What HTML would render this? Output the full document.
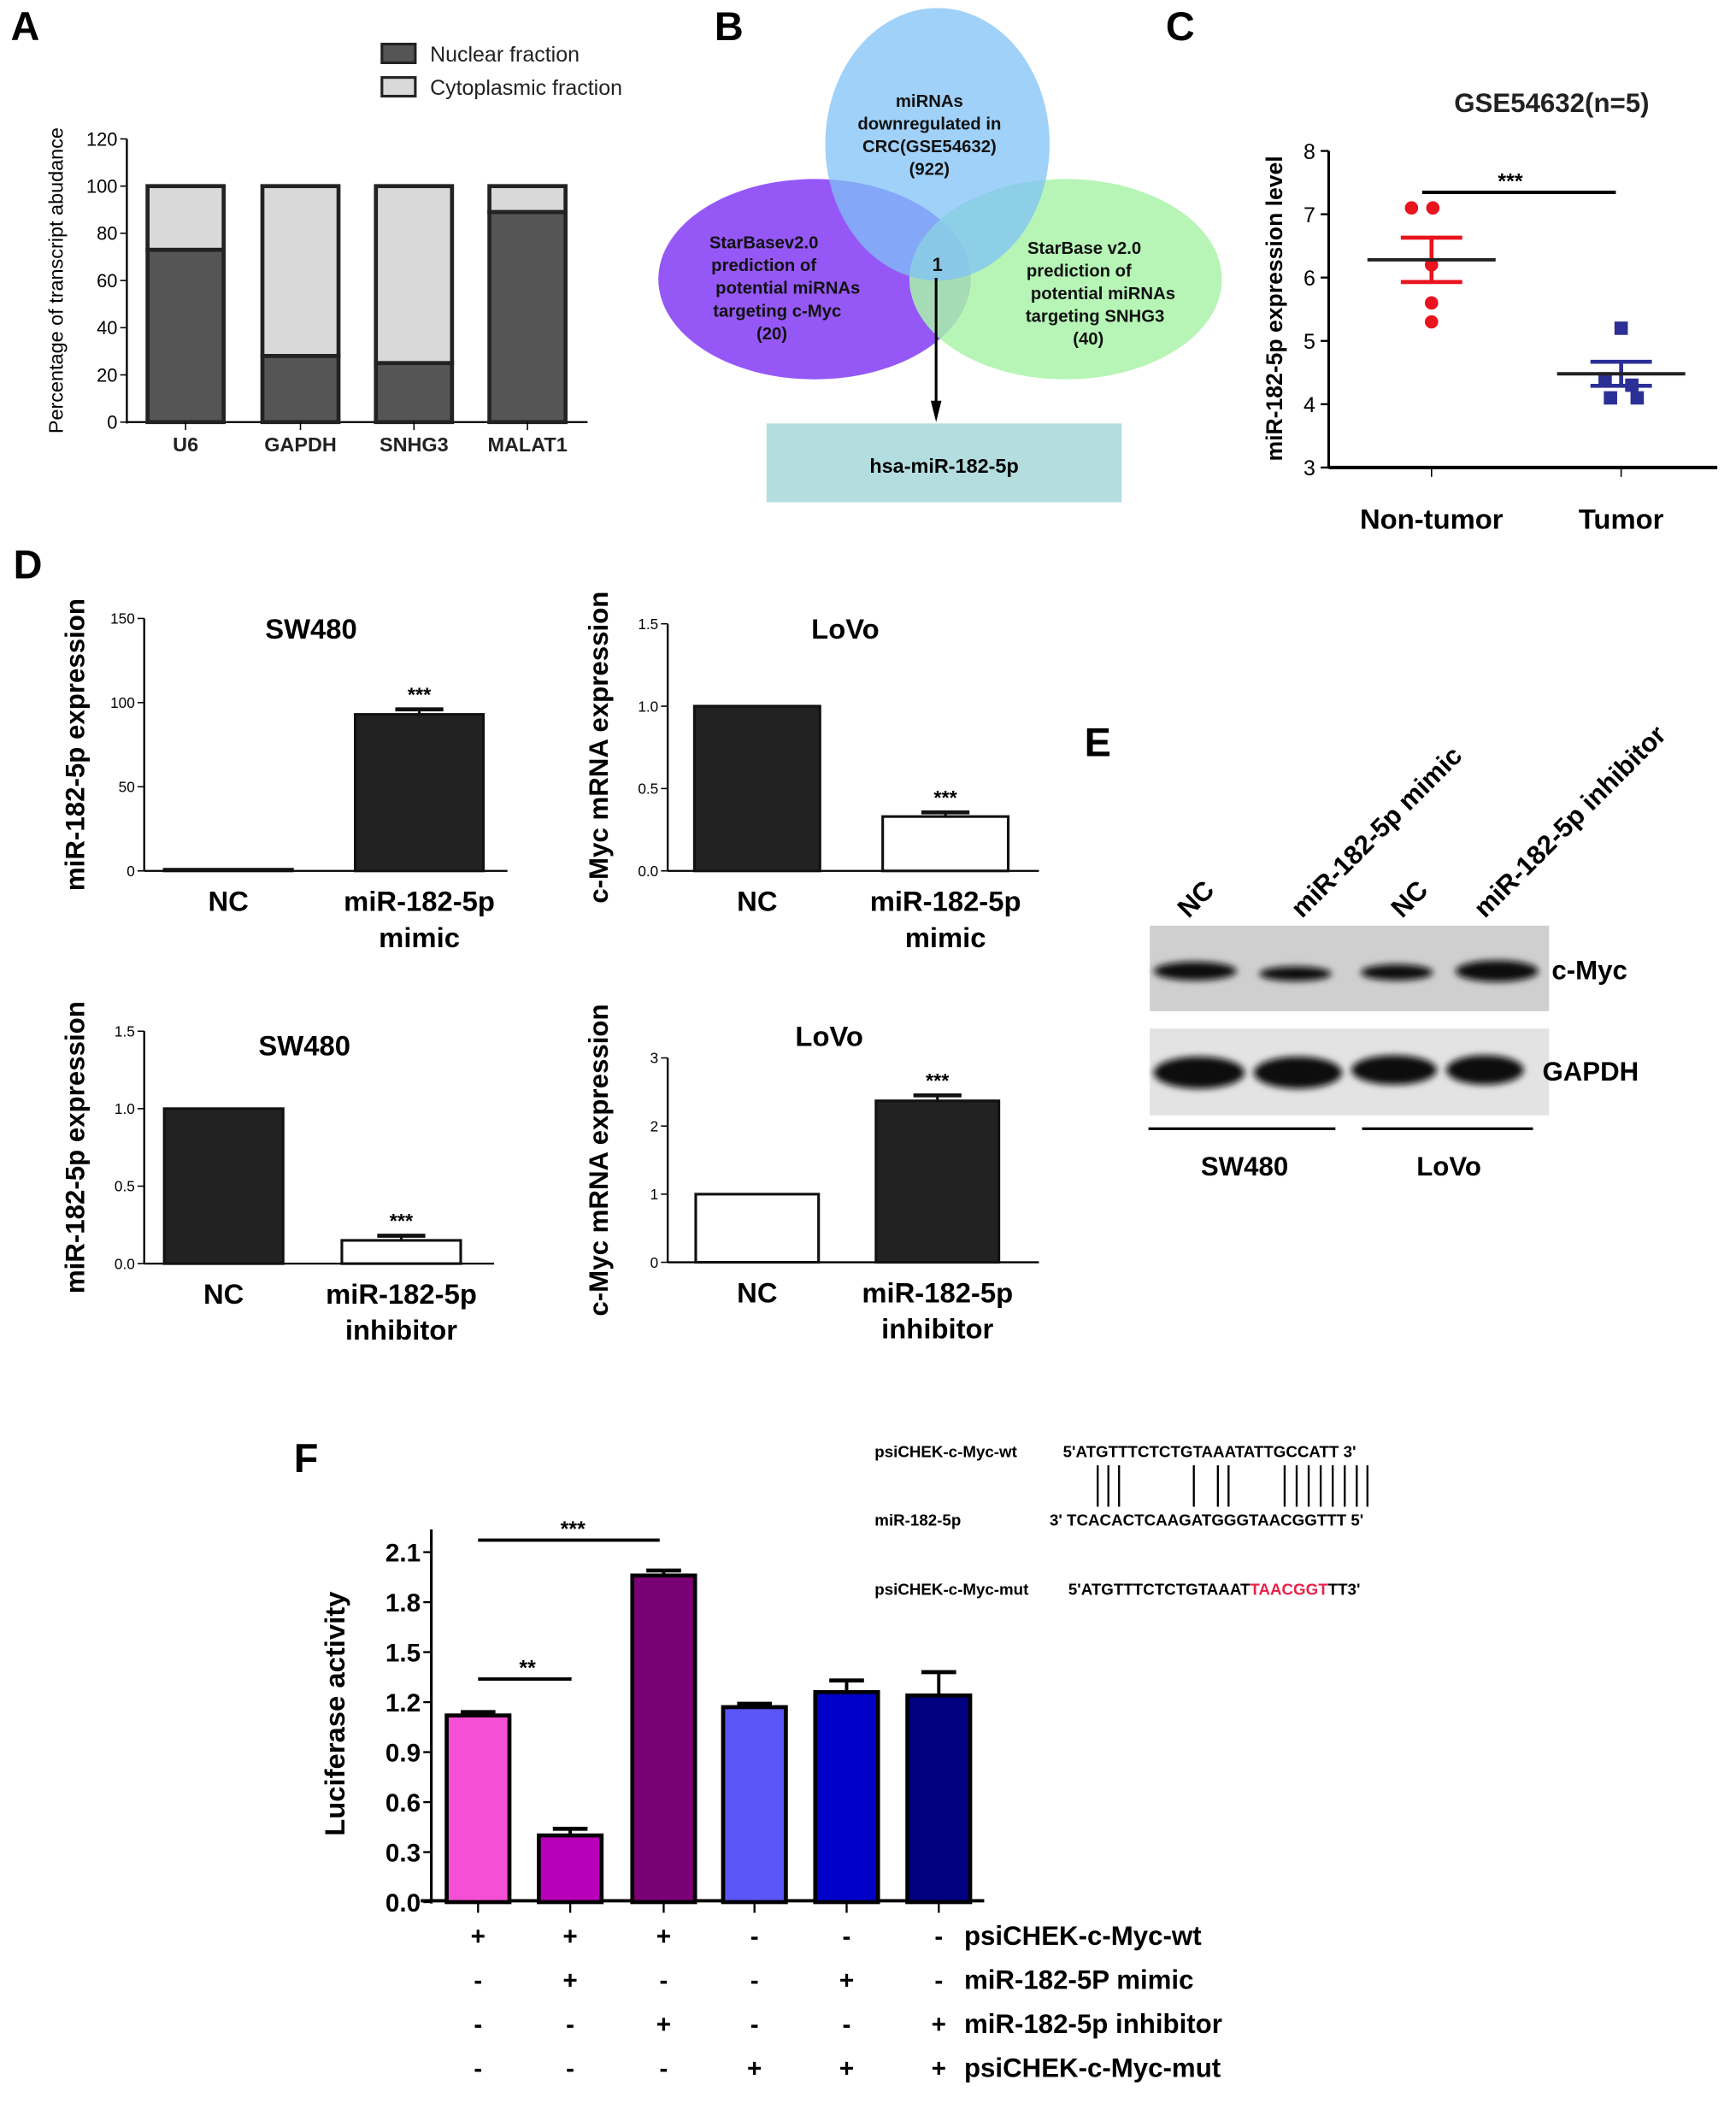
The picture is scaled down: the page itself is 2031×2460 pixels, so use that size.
<!DOCTYPE html>
<html><head><meta charset="utf-8"><style>
html,body{margin:0;padding:0;background:#fff}
svg{display:block}
text{font-family:"Liberation Sans",sans-serif}
</style></head><body>
<svg id="fig" width="2031" height="2460" viewBox="0 0 1300 1574.4" preserveAspectRatio="none" xmlns="http://www.w3.org/2000/svg">
<defs><filter id="blur" x="-20%" y="-50%" width="140%" height="200%"><feGaussianBlur stdDeviation="2.5"/></filter></defs>
<rect width="1300" height="1575" fill="#fff"/>
<g font-weight="bold" font-size="30">
<text x="8" y="30">A</text><text x="535" y="30">B</text><text x="873" y="30">C</text>
<text x="10" y="433">D</text><text x="812" y="566">E</text><text x="220" y="1102">F</text>
</g>

<g>
<ellipse cx="610" cy="209" rx="117" ry="75" fill="#9558f6"/>
<ellipse cx="798" cy="209" rx="117" ry="75" fill="#a9f3a9" opacity="0.85"/>
<ellipse cx="702" cy="108" rx="84" ry="102" fill="#7fc2f7" opacity="0.75"/>
<g font-size="13" font-weight="bold" text-anchor="middle" fill="#111">
<text x="696" y="80">miRNAs</text><text x="696" y="97">downregulated in</text><text x="696" y="114">CRC(GSE54632)</text><text x="696" y="131">(922)</text>
<text x="572" y="186">StarBasev2.0</text><text x="572" y="203">prediction of</text><text x="590" y="220">potential miRNAs</text><text x="582" y="237">targeting c-Myc</text><text x="578" y="254">(20)</text>
<text x="812" y="190">StarBase v2.0</text><text x="808" y="207">prediction of</text><text x="826" y="224">potential miRNAs</text><text x="820" y="241">targeting SNHG3</text><text x="815" y="258">(40)</text>
<text x="702" y="203" font-size="14">1</text>
</g>
<line x1="701" y1="208" x2="701" y2="306" stroke="#000" stroke-width="2"/>
<polygon points="697,300 705,300 701,316" fill="#000"/>
<rect x="574" y="317" width="266" height="59" fill="#b4dde0"/>
<text x="707" y="354" font-size="15" font-weight="bold" text-anchor="middle">hsa-miR-182-5p</text>
</g>

<g>
<rect x="861" y="693" width="299" height="64" fill="#cfcfcf"/>
<rect x="861" y="770" width="299" height="65" fill="#e3e3e3"/>
<g fill="#0a0a0a" filter="url(#blur)">
<ellipse cx="895" cy="727" rx="31" ry="7"/><ellipse cx="970" cy="729" rx="27" ry="5.5"/><ellipse cx="1046" cy="728" rx="27" ry="6"/><ellipse cx="1121" cy="727" rx="31" ry="8"/>
<ellipse cx="898" cy="803" rx="34" ry="12"/><ellipse cx="972" cy="803" rx="33" ry="12"/><ellipse cx="1044" cy="801" rx="32" ry="11"/><ellipse cx="1112" cy="801" rx="29" ry="11"/>
</g>
<g font-size="20" font-weight="bold">
<text x="1162" y="733">c-Myc</text><text x="1155" y="809">GAPDH</text>
<text x="932" y="880" text-anchor="middle">SW480</text><text x="1085" y="880" text-anchor="middle">LoVo</text>
<text transform="translate(890,688) rotate(-45)">NC</text>
<text transform="translate(975,688) rotate(-45)">miR-182-5p mimic</text>
<text transform="translate(1050,688) rotate(-45)">NC</text>
<text transform="translate(1112,688) rotate(-45)">miR-182-5p inhibitor</text>
</g>
<line x1="860" y1="845" x2="1000" y2="845" stroke="#000" stroke-width="2"/>
<line x1="1020" y1="845" x2="1148" y2="845" stroke="#000" stroke-width="2"/>
</g>

<g font-size="12" font-weight="bold">
<text x="655" y="1091">psiCHEK-c-Myc-wt</text><text x="796" y="1091">5'ATGTTTCTCTGTAAATATTGCCATT 3'</text>
<text x="655" y="1142">miR-182-5p</text><text x="786" y="1142">3' TCACACTCAAGATGGGTAACGGTTT 5'</text>
<text x="655" y="1194">psiCHEK-c-Myc-mut</text><text x="800" y="1194">5'ATGTTTCTCTGTAAAT<tspan fill="#e8224a">TAACGGT</tspan>TT3'</text>
<g stroke="#000" stroke-width="1.5">
<line x1="822" y1="1097" x2="822" y2="1128"/><line x1="830" y1="1097" x2="830" y2="1128"/><line x1="838" y1="1097" x2="838" y2="1128"/>
<line x1="894" y1="1097" x2="894" y2="1128"/><line x1="912" y1="1097" x2="912" y2="1128"/><line x1="920" y1="1097" x2="920" y2="1128"/>
<line x1="962" y1="1097" x2="962" y2="1128"/><line x1="971" y1="1097" x2="971" y2="1128"/><line x1="980" y1="1097" x2="980" y2="1128"/><line x1="989" y1="1097" x2="989" y2="1128"/><line x1="998" y1="1097" x2="998" y2="1128"/><line x1="1007" y1="1097" x2="1007" y2="1128"/><line x1="1016" y1="1097" x2="1016" y2="1128"/><line x1="1024" y1="1097" x2="1024" y2="1128"/>
</g>
</g>
<g id="charts"></g>
</svg>
<script>
const aCats=["U6","GAPDH","SNHG3","MALAT1"];
const aNuclear=[73,28,25,89];
const aTotal=[100,100,100,100];
const aTicks=[0,20,40,60,80,100,120];
const cGroups=["Non-tumor","Tumor"];
const cRed=[7.1,7.1,6.2,5.6,5.3];
const cBlue=[5.2,4.4,4.3,4.1,4.1];
const cMean=[6.28,4.48];
const cSem=[0.35,0.19];
const cTicks=[3,4,5,6,7,8];
const d1Vals=[1,93];const d1Err=[0,3];const d1Ticks=[0,50,100,150];
const d2Vals=[1,0.33];const d2Err=[0,0.025];const d2Ticks=[0,0.5,1.0,1.5];
const d3Vals=[1,0.15];const d3Err=[0,0.03];const d3Ticks=[0,0.5,1.0,1.5];
const d4Vals=[1,2.37];const d4Err=[0,0.08];const d4Ticks=[0,1,2,3];
const fVals=[1.12,0.40,1.96,1.17,1.26,1.24];
const fErr=[0.02,0.04,0.03,0.02,0.07,0.14];
const fTicks=[0,0.3,0.6,0.9,1.2,1.5,1.8,2.1];
const fRows=["psiCHEK-c-Myc-wt","miR-182-5P mimic","miR-182-5p inhibitor","psiCHEK-c-Myc-mut"];
const fSigns=[["+","+","+","-","-","-"],["-","+","-","-","+","-"],["-","-","+","-","-","+"],["-","-","-","+","+","+"]];

const NS="http://www.w3.org/2000/svg";
const root=document.getElementById('charts');
function el(tag,attrs,parent,txt){const e=document.createElementNS(NS,tag);for(const k in attrs)e.setAttribute(k,attrs[k]);if(txt!==undefined)e.textContent=txt;(parent||root).appendChild(e);return e;}
function yScale(v0,v1,p0,p1){return v=>p0+(v-v0)*(p1-p0)/(v1-v0);}
function fmt(v,d){return d?v.toFixed(d):String(v);}

(function(){
const g=el('g',{});
const y=yScale(0,120,316,104);
el('line',{x1:95,y1:104,x2:95,y2:317,stroke:'#000','stroke-width':1.5},g);
el('line',{x1:95,y1:316,x2:440,y2:316,stroke:'#000','stroke-width':1.5},g);
aTicks.forEach(t=>{el('line',{x1:90,y1:y(t),x2:95,y2:y(t),stroke:'#000'},g);
const tx=el('text',{x:88,y:y(t)+5,'font-size':14,'text-anchor':'end'},g,t);});
const cx=[139,225,310,395];
aCats.forEach((c,i)=>{
const w=57,x=cx[i]-w/2;
const b1=el('rect',{x:x,y:y(aTotal[i]),width:w,height:y(aNuclear[i])-y(aTotal[i]),fill:'#d9d9d9',stroke:'#222','stroke-width':3},g);

const b2=el('rect',{x:x,y:y(aNuclear[i]),width:w,height:y(0)-y(aNuclear[i]),fill:'#555',stroke:'#222','stroke-width':3},g);

el('line',{x1:cx[i],y1:316,x2:cx[i],y2:322,stroke:'#000'},g);
const l=el('text',{x:cx[i],y:338,'font-size':15,'font-weight':'bold','text-anchor':'middle',fill:'#222'},g,c);

});
const yt=el('text',{transform:'translate(47,210) rotate(-90)','font-size':15,'text-anchor':'middle'},g,'Percentage of transcript abudance');

el('rect',{x:286,y:33,width:25,height:14,fill:'#555',stroke:'#222','stroke-width':2},g);
el('rect',{x:286,y:58,width:25,height:14,fill:'#d9d9d9',stroke:'#222','stroke-width':2},g);
const l1=el('text',{x:322,y:46,'font-size':16,fill:'#222'},g,'Nuclear fraction');
const l2=el('text',{x:322,y:71,'font-size':16,fill:'#222'},g,'Cytoplasmic fraction');
})();

(function(){
const g=el('g',{});
const y=yScale(3,8,350,113);
el('line',{x1:995,y1:113,x2:995,y2:350,stroke:'#000','stroke-width':2},g);
el('line',{x1:995,y1:350,x2:1286,y2:350,stroke:'#000','stroke-width':2.5},g);
cTicks.forEach(t=>{el('line',{x1:989,y1:y(t),x2:995,y2:y(t),stroke:'#000','stroke-width':1.5},g);
el('text',{x:985,y:y(t)+6,'font-size':16,'text-anchor':'end'},g,t);});
const gx=[1072,1214];
gx.forEach((x,i)=>{el('line',{x1:x,y1:350,x2:x,y2:357,stroke:'#000'},g);
const t=el('text',{x:x,y:396,'font-size':21,'font-weight':'bold','text-anchor':'middle'},g,cGroups[i]);});
cRed.forEach((v,i)=>{const p=el('circle',{cx:gx[0]+[-15,1,0,0,0][i],cy:y(v),r:5,fill:'#e8141e'},g);});
cBlue.forEach((v,i)=>{const dx=[0,-12,8,-8,12][i];const p=el('rect',{x:gx[1]+dx-5,y:y(v)-5,width:10,height:10,fill:'#2b2f96'},g);});
const col=['#e8141e','#2b2f96'];
gx.forEach((x,i)=>{
el('line',{x1:x,y1:y(cMean[i]+cSem[i]),x2:x,y2:y(cMean[i]-cSem[i]),stroke:col[i],'stroke-width':3},g);
el('line',{x1:x-23,y1:y(cMean[i]+cSem[i]),x2:x+23,y2:y(cMean[i]+cSem[i]),stroke:col[i],'stroke-width':3},g);
el('line',{x1:x-23,y1:y(cMean[i]-cSem[i]),x2:x+23,y2:y(cMean[i]-cSem[i]),stroke:col[i],'stroke-width':3},g);
const m=el('line',{x1:x-48,y1:y(cMean[i]),x2:x+48,y2:y(cMean[i]),stroke:'#222','stroke-width':2.5},g);
});
el('line',{x1:1065,y1:144,x2:1210,y2:144,stroke:'#000','stroke-width':2.5},g);
el('text',{x:1131,y:141,'font-size':16,'font-weight':'bold','text-anchor':'middle'},g,'***');
const tt=el('text',{x:1162,y:84,'font-size':20,'font-weight':'bold','text-anchor':'middle',fill:'#222'},g,'GSE54632(n=5)');
const yt=el('text',{transform:'translate(960,231) rotate(-90)','font-size':17,'font-weight':'bold','text-anchor':'middle'},g,'miR-182-5p expression level');
})();

function dChart(o){
const g=el('g',{});
const y=yScale(o.ticks[0],o.ticks[o.ticks.length-1],o.y0,o.y1);
el('line',{x1:o.ax,y1:o.y1,x2:o.ax,y2:o.y0,stroke:'#000','stroke-width':1.5},g);
el('line',{x1:o.ax,y1:o.y0,x2:o.xe,y2:o.y0,stroke:'#000','stroke-width':1.5},g);
o.ticks.forEach(t=>{el('line',{x1:o.ax-5,y1:y(t),x2:o.ax,y2:y(t),stroke:'#000'},g);
el('text',{x:o.ax-7,y:y(t)+4,'font-size':11,'text-anchor':'end'},g,fmt(t,o.dec));});
o.vals.forEach((v,i)=>{
const b=el('rect',{x:o.bx[i],y:y(v),width:o.bw,height:y(0)-y(v),fill:o.fills[i],stroke:'#111','stroke-width':2},g);

if(o.err[i]>0){const cx=o.bx[i]+o.bw/2;el('line',{x1:cx,y1:y(v),x2:cx,y2:y(v+o.err[i]),stroke:'#111','stroke-width':2},g);
el('line',{x1:cx-18,y1:y(v+o.err[i]),x2:cx+18,y2:y(v+o.err[i]),stroke:'#111','stroke-width':3},g);
el('text',{x:cx,y:y(v+o.err[i])-6,'font-size':15,'font-weight':'bold','text-anchor':'middle'},g,'***');}
});
el('text',{x:o.tx,y:o.ty,'font-size':21,'font-weight':'bold','text-anchor':'middle'},g,o.title);
const c0=o.bx[0]+o.bw/2,c1=o.bx[1]+o.bw/2;
el('text',{x:c0,y:o.y0+30,'font-size':21,'font-weight':'bold','text-anchor':'middle'},g,'NC');
el('text',{x:c1,y:o.y0+30,'font-size':21,'font-weight':'bold','text-anchor':'middle'},g,'miR-182-5p');
el('text',{x:c1,y:o.y0+57,'font-size':21,'font-weight':'bold','text-anchor':'middle'},g,o.sub);
const yt=el('text',{transform:'translate('+o.ytx+','+((o.y0+o.y1)/2)+') rotate(-90)','font-size':20,'font-weight':'bold','text-anchor':'middle'},g,o.ytitle);

}
dChart({name:'panel-d-sw480-mimic',ax:108,xe:380,y0:652,y1:463,ticks:d1Ticks,dec:0,vals:d1Vals,err:d1Err,bx:[123,266],bw:96,fills:['#222','#222'],title:'SW480',tx:233,ty:478,sub:'mimic',ytx:63,ytitle:'miR-182-5p expression'});
dChart({name:'panel-d-lovo-mimic',ax:500,xe:778,y0:652,y1:467,ticks:d2Ticks,dec:1,vals:d2Vals,err:d2Err,bx:[520,661],bw:94,fills:['#222','#fff'],title:'LoVo',tx:633,ty:478,sub:'mimic',ytx:455,ytitle:'c-Myc mRNA expression'});
dChart({name:'panel-d-sw480-inhibitor',ax:108,xe:370,y0:946,y1:772,ticks:d3Ticks,dec:1,vals:d3Vals,err:d3Err,bx:[123,256],bw:89,fills:['#222','#fff'],title:'SW480',tx:228,ty:790,sub:'inhibitor',ytx:63,ytitle:'miR-182-5p expression'});
dChart({name:'panel-d-lovo-inhibitor',ax:500,xe:778,y0:945,y1:792,ticks:d4Ticks,dec:0,vals:d4Vals,err:d4Err,bx:[521,656],bw:92,fills:['#fff','#222'],title:'LoVo',tx:621,ty:783,sub:'inhibitor',ytx:455,ytitle:'c-Myc mRNA expression'});

(function(){
const g=el('g',{});
const y=yScale(0,2.1,1424,1162);
const ax=323;
el('line',{x1:ax,y1:1145,x2:ax,y2:1425,stroke:'#000','stroke-width':2},g);
el('line',{x1:ax-8,y1:1423,x2:737,y2:1423,stroke:'#000','stroke-width':2.5},g);
fTicks.forEach(t=>{el('line',{x1:ax-6,y1:y(t),x2:ax,y2:y(t),stroke:'#000','stroke-width':1.5},g);
const tx=el('text',{x:ax-8,y:y(t)+7,'font-size':19,'font-weight':'bold','text-anchor':'end'},g,t.toFixed(1));});
const fills=['#f54fd6','#b800b8','#7a0075','#5a55f5','#0000c8','#000080'];
const cx=[358,427,497,565,634,703],bw=47;
fVals.forEach((v,i)=>{
const b=el('rect',{x:cx[i]-bw/2,y:y(v),width:bw,height:y(0)-y(v),fill:fills[i],stroke:'#000','stroke-width':3},g);

el('line',{x1:cx[i],y1:y(v),x2:cx[i],y2:y(v+fErr[i]),stroke:'#000','stroke-width':2.5},g);
el('line',{x1:cx[i]-13,y1:y(v+fErr[i]),x2:cx[i]+13,y2:y(v+fErr[i]),stroke:'#000','stroke-width':3},g);
el('line',{x1:cx[i],y1:1423,x2:cx[i],y2:1432,stroke:'#000','stroke-width':1.5},g);
fSigns.forEach((row,r)=>{el('text',{x:cx[i],y:1456+r*33,'font-size':19,'font-weight':'bold','text-anchor':'middle'},g,row[i]);});
});
fRows.forEach((t,r)=>{const l=el('text',{x:722,y:1456+r*33,'font-size':20,'font-weight':'bold'},g,t);});
el('line',{x1:358,y1:1153,x2:494,y2:1153,stroke:'#000','stroke-width':2.5},g);
el('text',{x:429,y:1150,'font-size':16,'font-weight':'bold','text-anchor':'middle'},g,'***');
el('line',{x1:358,y1:1257,x2:428,y2:1257,stroke:'#000','stroke-width':2.5},g);
el('text',{x:395,y:1254,'font-size':16,'font-weight':'bold','text-anchor':'middle'},g,'**');
const yt=el('text',{transform:'translate(258,1283) rotate(-90)','font-size':21,'font-weight':'bold','text-anchor':'middle'},g,'Luciferase activity');

})();
</script>
</body></html>
